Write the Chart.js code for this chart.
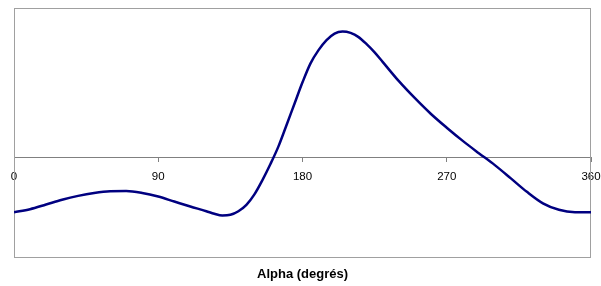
<!DOCTYPE html>
<html>
<head>
<meta charset="utf-8">
<script src="https://cdn.jsdelivr.net/npm/chart.js@4/dist/chart.umd.min.js"></script>
<style>
    html, body { margin: 0; padding: 0; background: #fff; }
    #grafico-container { width: 601px; height: 286px; }
</style>
</head>
<body>
<div id="grafico-container"><canvas id="graficoAlpha"></canvas></div>
<script>
// Angles (degrés) et valeurs
const angles = [0, 10, 20, 30, 40, 50, 60, 70, 80, 90, 100, 110, 120, 125, 130, 135, 140, 145, 150, 155, 160, 165, 170, 175, 180, 185, 190, 195, 200, 205, 210, 215, 220, 225, 230, 240, 250, 260, 270, 280, 290, 300, 310, 320, 330, 340, 350, 360];
const valeurs = [-0.548, -0.517, -0.470, -0.422, -0.383, -0.354, -0.337, -0.335, -0.354, -0.390, -0.440, -0.490, -0.537, -0.563, -0.580, -0.573, -0.537, -0.473, -0.368, -0.225, -0.064, 0.113, 0.325, 0.540, 0.755, 0.945, 1.078, 1.178, 1.244, 1.264, 1.250, 1.208, 1.137, 1.055, 0.960, 0.769, 0.598, 0.440, 0.300, 0.168, 0.045, -0.075, -0.208, -0.343, -0.458, -0.523, -0.547, -0.548];
const ticksX = [0, 90, 180, 270, 360];
const titreX = "Alpha (degrés)";

// Cadre gris autour de la zone de tracé
const cadrePlugin = {
    id: 'cadre',
    beforeDatasetsDraw(chart) {
        const a = chart.chartArea;
        const ctx = chart.ctx;
        ctx.save();
        ctx.strokeStyle = '#a0a0a0';
        ctx.lineWidth = 1;
        ctx.strokeRect(Math.round(a.left) + 0.5, Math.round(a.top) + 0.5,
            Math.round(a.right - a.left) - 1, Math.round(a.bottom - a.top));
        ctx.restore();
    }
};

new Chart(document.getElementById("graficoAlpha"), {
    type: 'line',
    data: {
        datasets: [{
            data: angles.map((a, i) => ({ x: a, y: valeurs[i] })),
            borderColor: '#000080',
            borderWidth: 2.5,
            pointRadius: 0,
            cubicInterpolationMode: 'monotone',
            fill: false
        }]
    },
    options: {
        responsive: true,
        maintainAspectRatio: false,
        animation: false,
        layout: { padding: { left: 14, right: 10, top: 8, bottom: 0 } },
        plugins: {
            legend: { display: false },
            tooltip: { enabled: false },
            title: {
                display: true,
                text: titreX,
                position: 'bottom',
                color: '#000',
                font: { family: 'Arial, "Liberation Sans", sans-serif', size: 13, weight: 'bold' },
                padding: { top: 9, bottom: 4 }
            }
        },
        scales: {
            x: {
                type: 'linear',
                position: { y: 0 },
                min: 0,
                max: 360,
                afterBuildTicks: (scale) => { scale.ticks = ticksX.map(v => ({ value: v })); },
                afterFit: (scale) => { scale.paddingLeft = 0; scale.paddingRight = 0; },
                ticks: {
                    color: '#000',
                    padding: 8,
                    maxRotation: 0,
                    font: { family: 'Arial, "Liberation Sans", sans-serif', size: 11.5 }
                },
                grid: { drawOnChartArea: false, drawTicks: true, tickLength: 4, color: '#808080' },
                border: { color: '#808080', width: 1 }
            },
            y: {
                display: false,
                min: -1,
                max: 1.5
            }
        }
    },
    plugins: [cadrePlugin]
});
</script>
</body>
</html>
